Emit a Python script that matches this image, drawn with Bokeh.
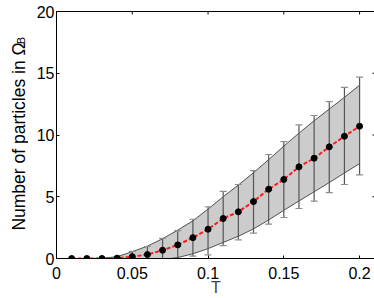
import math
from bokeh.plotting import figure
from bokeh.layouts import row
from bokeh.models import Range1d, FixedTicker, ColumnDataSource
from bokeh.core.properties import value
from bokeh.embed import file_html
from bokeh.resources import INLINE

# ---- data ----
T = [0.01, 0.02, 0.03, 0.04, 0.05, 0.06, 0.07, 0.08, 0.09, 0.10,
     0.11, 0.12, 0.13, 0.14, 0.15, 0.16, 0.17, 0.18, 0.19, 0.20]
N_mean = [0.0, 0.0, 0.0, 0.03, 0.15, 0.32, 0.67, 1.10, 1.69, 2.37,
          3.24, 3.78, 4.61, 5.61, 6.40, 7.42, 8.12, 9.04, 9.90, 10.71]
err_hi = [0.0, 0.0, 0.02, 0.15, 0.58, 0.97, 1.63, 2.25, 3.18, 4.19,
          5.43, 5.99, 7.12, 8.42, 9.47, 10.82, 11.58, 12.71, 13.85, 14.68]
err_lo = [0.0, 0.0, -0.02, -0.09, -0.28, -0.33, -0.29, -0.05, 0.19, 0.30,
          1.05, 1.51, 2.05, 2.78, 3.32, 4.05, 4.64, 5.34, 5.99, 6.77]
band_hi = [0.0, 0.0, 0.02, 0.15, 0.55, 1.0, 1.6, 2.3, 3.05, 4.0,
           5.0, 5.95, 6.95, 8.0, 9.1, 10.15, 11.15, 12.1, 13.05, 14.03]
band_lo = [0.0, 0.0, -0.02, -0.15, -0.35, -0.45, -0.1, 0.08, 0.38, 0.8,
           1.3, 1.8, 2.4, 3.12, 3.9, 4.66, 5.4, 6.15, 6.92, 7.69]

x_ticks = [0, 0.05, 0.1, 0.15, 0.2]
x_tick_labels = ["0", "0.05", "0.1", "0.15", "0.2"]
y_ticks = [0, 5, 10, 15, 20]
x_label = "T"
y_label = "Number of particles in \u03a9"
y_label_sub = "B"

X_MAX = 0.2105
Y_MAX = 20
FONT = "Liberation Sans"
FS = "16px"
FRAME_W, FRAME_H = 319, 247
LABEL_W = 28

src = ColumnDataSource(dict(T=T, N=N_mean, hi=err_hi, lo=err_lo,
                            bhi=band_hi, blo=band_lo))

yr = Range1d(0, Y_MAX)
p = figure(frame_width=FRAME_W, frame_height=FRAME_H,
           x_range=Range1d(0, X_MAX), y_range=yr,
           output_backend="svg", toolbar_location=None,
           min_border_left=28, min_border_right=2,
           min_border_top=11, min_border_bottom=30)
p.background_fill_color = "white"
p.border_fill_color = "white"
p.outline_line_color = "black"
p.outline_line_width = 1
p.xgrid.visible = False
p.ygrid.visible = False

# band
p.varea(x="T", y1="blo", y2="bhi", source=src, fill_color="#cccccc")
p.line(x="T", y="bhi", source=src, line_color="#505050", line_width=1)
p.line(x="T", y="blo", source=src, line_color="#505050", line_width=1)

# error bars
p.segment(x0="T", y0="lo", x1="T", y1="hi", source=src,
          line_color="#555555", line_width=1.2)
p.dash(x="T", y="hi", source=src, size=7, line_color="#8f8f8f", line_width=1.2)
p.dash(x="T", y="lo", source=src, size=7, line_color="#8f8f8f", line_width=1.2)

# mean line and points
p.line(x="T", y="N", source=src, line_color="#ff1a1a", line_width=2,
       line_dash="4 2")
p.scatter(x="T", y="N", source=src, size=6, fill_color="black",
          line_color="black")

# axes
xa = p.xaxis[0]
ya = p.yaxis[0]
for ax in (xa, ya):
    ax.major_tick_in = 3
    ax.major_tick_out = 0
    ax.minor_tick_in = 0
    ax.minor_tick_out = 0
    ax.major_tick_line_color = "black"
    ax.axis_line_color = "black"
    ax.major_label_text_font = FONT
    ax.major_label_text_font_size = FS
    ax.major_label_text_color = "black"

xa.ticker = FixedTicker(ticks=x_ticks)
xa.major_label_overrides = {t: l for t, l in zip(x_ticks, x_tick_labels)}
xa.major_label_standoff = 8
xa.axis_label = x_label
xa.axis_label_text_font = FONT
xa.axis_label_text_font_size = FS
xa.axis_label_text_font_style = "normal"
xa.axis_label_standoff = -3

ya.ticker = FixedTicker(ticks=y_ticks)
ya.major_label_standoff = 2

# inward ticks on the top and right frame edges
p.ray(x=x_ticks, y=[Y_MAX] * len(x_ticks), length=3, length_units="screen",
      angle=-math.pi / 2, line_color="black", line_width=1)
p.ray(x=[X_MAX] * len(y_ticks), y=y_ticks, length=3, length_units="screen",
      angle=math.pi, line_color="black", line_width=1)

# narrow panel holding the rotated y-axis title (with subscript)
lab = figure(frame_width=LABEL_W, frame_height=FRAME_H,
             x_range=Range1d(0, LABEL_W), y_range=yr,
             x_axis_type=None, y_axis_type=None,
             output_backend="svg", toolbar_location=None,
             min_border_left=0, min_border_right=0,
             min_border_top=11, min_border_bottom=30)
lab.outline_line_color = None
lab.xgrid.visible = False
lab.ygrid.visible = False
lab.background_fill_color = "white"
lab.border_fill_color = "white"
px_y = Y_MAX / FRAME_H
lab.text(x=[18], y=[122 * px_y], text=[y_label], angle=math.pi / 2,
         text_align="center", text_baseline="alphabetic",
         text_font=value(FONT), text_font_size=value("17.5px"), text_color="black")
lab.text(x=[20.5], y=[218 * px_y], text=[y_label_sub], angle=math.pi / 2,
         text_align="center", text_baseline="alphabetic",
         text_font=value(FONT), text_font_size=value("11px"), text_color="black")

layout = row(lab, p)
open("out.html", "w").write(file_html(layout, INLINE))
